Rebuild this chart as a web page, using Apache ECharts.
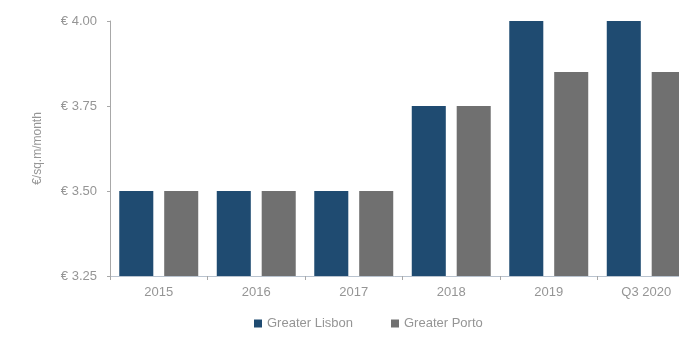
<!DOCTYPE html>
<html>
<head>
<meta charset="utf-8">
<script src="https://cdn.jsdelivr.net/npm/echarts@6/dist/echarts.min.js"></script>
<style>
  html, body { margin: 0; padding: 0; background: #fff; }
  #chart { width: 679px; height: 340px; }
</style>
</head>
<body>
<div id="chart"></div>
<script>
// categories and values
const categories = ['2015', '2016', '2017', '2018', '2019', 'Q3 2020']
const lisbon = [3.5, 3.5, 3.5, 3.75, 4.0, 4.0]
const porto = [3.5, 3.5, 3.5, 3.75, 3.85, 3.85]
const yTicks = [3.25, 3.5, 3.75, 4.0]

const labelColor = '#959595'
const chart = echarts.init(document.getElementById('chart'))

chart.setOption({
  animation: false,
  textStyle: { fontFamily: 'Liberation Sans, Arial, sans-serif' },
  // plot runs past the right edge, like the cropped original
  grid: { left: 110, width: 585, top: 21, height: 255, containLabel: false, outerBoundsMode: 'none' },
  legend: {
    bottom: 5,
    left: 249,
    itemWidth: 8,
    itemHeight: 8,
    itemGap: 38,
    icon: 'rect',
    textStyle: { color: labelColor, fontSize: 13 },
    data: ['Greater Lisbon', 'Greater Porto'],
  },
  xAxis: {
    type: 'category',
    data: categories,
    axisLine: { lineStyle: { color: '#b9c3cf' } },
    axisTick: { show: true, length: 4, lineStyle: { color: '#a8a8a8' } },
    axisLabel: { color: labelColor, fontSize: 13, margin: 10 },
  },
  yAxis: {
    type: 'value',
    min: yTicks[0],
    max: yTicks[yTicks.length - 1],
    interval: 0.25,
    name: '€/sq.m/month',
    nameLocation: 'middle',
    nameGap: 66,
    nameTextStyle: { color: labelColor, fontSize: 12 },
    axisLine: { show: true, lineStyle: { color: '#a8a8a8' } },
    axisTick: { show: true, length: 3, lineStyle: { color: '#a8a8a8' } },
    splitLine: { show: false },
    axisLabel: {
      color: labelColor,
      fontSize: 13,
      margin: 13,
      formatter: v => '€ ' + v.toFixed(2),
    },
  },
  series: [
    {
      name: 'Greater Lisbon',
      type: 'bar',
      data: lisbon,
      barGap: '32%',
      barCategoryGap: '19%',
      itemStyle: { color: '#1f4b71' },
    },
    {
      name: 'Greater Porto',
      type: 'bar',
      data: porto,
      itemStyle: { color: '#707070' },
    },
  ],
})
</script>
</body>
</html>
